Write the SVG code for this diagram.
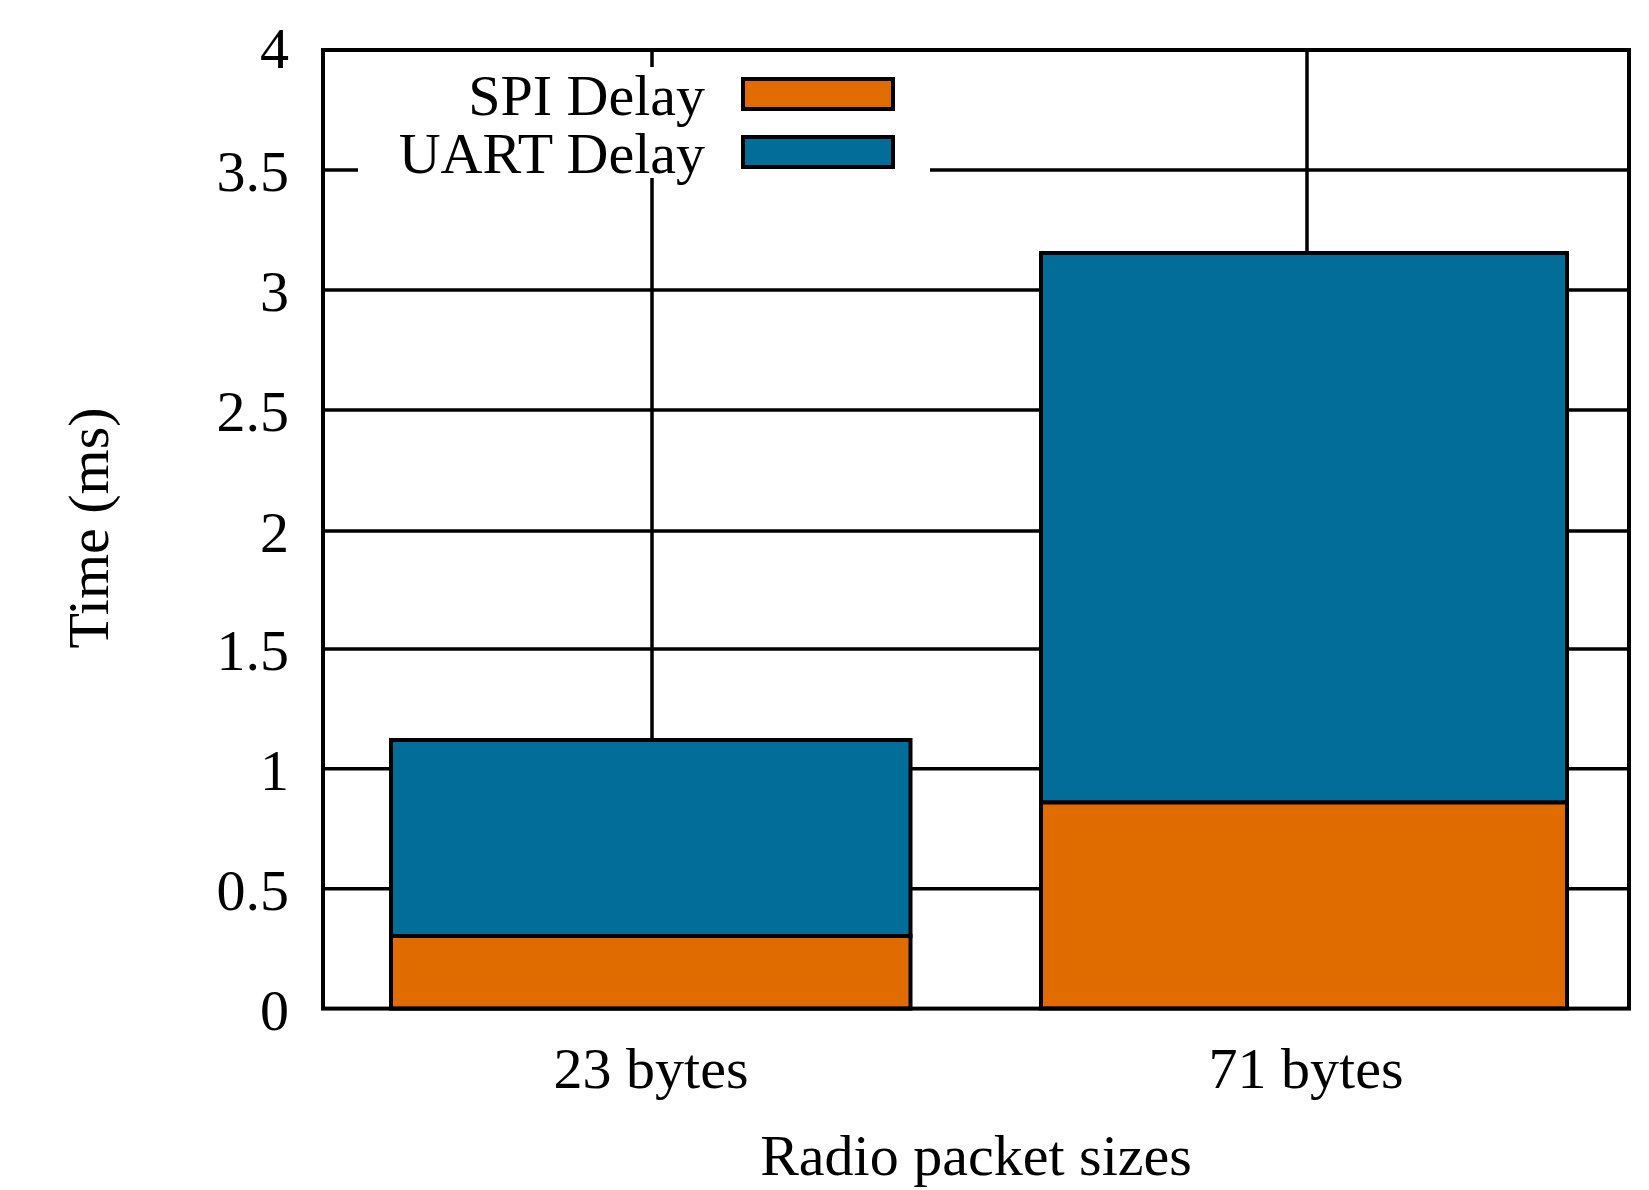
<svg xmlns="http://www.w3.org/2000/svg" width="1649" height="1190" viewBox="0 0 1649 1190">
<style>
text{font-family:"Liberation Serif","Times New Roman",serif;font-size:58px;fill:#000}
.grid{stroke:#000;stroke-width:3.5;fill:none}
.bar{stroke:#000;stroke-width:4}
.spi{fill:#e06c00}
.uart{fill:#036d99}
.tick{text-anchor:end}
</style>
<rect width="1649" height="1190" fill="#fff"/>
<g id="grid">
<line class="grid" x1="323" y1="888.7" x2="1629" y2="888.7"/>
<line class="grid" x1="323" y1="768.8" x2="1629" y2="768.8"/>
<line class="grid" x1="323" y1="648.9" x2="1629" y2="648.9"/>
<line class="grid" x1="323" y1="531" x2="1629" y2="531"/>
<line class="grid" x1="323" y1="410" x2="1629" y2="410"/>
<line class="grid" x1="323" y1="290" x2="1629" y2="290"/>
<line class="grid" x1="323" y1="170" x2="1629" y2="170"/>
<line class="grid" x1="652" y1="50" x2="652" y2="1008"/>
<line class="grid" x1="1307" y1="50" x2="1307" y2="1008"/>
</g>
<rect id="legend-bg" x="358" y="67" width="572" height="111" fill="#fff"/>
<g id="bar-23">
<rect class="bar uart" x="391" y="740" width="519.5" height="196"/>
<rect class="bar spi" x="391" y="936" width="519.5" height="72.6"/>
</g>
<g id="bar-71">
<rect class="bar uart" x="1041" y="253" width="526" height="549.5"/>
<rect class="bar spi" x="1041" y="802.5" width="526" height="206"/>
</g>
<rect id="frame" x="323" y="50" width="1306" height="958.6" fill="none" stroke="#000" stroke-width="4"/>
<g id="legend">
<text class="tick" x="705" y="115">SPI Delay</text>
<rect class="bar spi" x="743" y="79" width="150" height="30"/>
<text class="tick" x="705" y="173">UART Delay</text>
<rect class="bar uart" x="743" y="137" width="150" height="30"/>
</g>
<g id="yticks">
<text class="tick" x="289" y="1030">0</text>
<text class="tick" x="289" y="910">0.5</text>
<text class="tick" x="289" y="790">1</text>
<text class="tick" x="289" y="670">1.5</text>
<text class="tick" x="289" y="552">2</text>
<text class="tick" x="289" y="431">2.5</text>
<text class="tick" x="289" y="311">3</text>
<text class="tick" x="289" y="191">3.5</text>
<text class="tick" x="289" y="68">4</text>
</g>
<g id="xticks">
<text x="651" y="1088" text-anchor="middle">23 bytes</text>
<text x="1306" y="1088" text-anchor="middle">71 bytes</text>
</g>
<text id="xlabel" x="976" y="1175" text-anchor="middle">Radio packet sizes</text>
<text id="ylabel" transform="translate(108,528) rotate(-90)" text-anchor="middle">Time (ms)</text>
</svg>
